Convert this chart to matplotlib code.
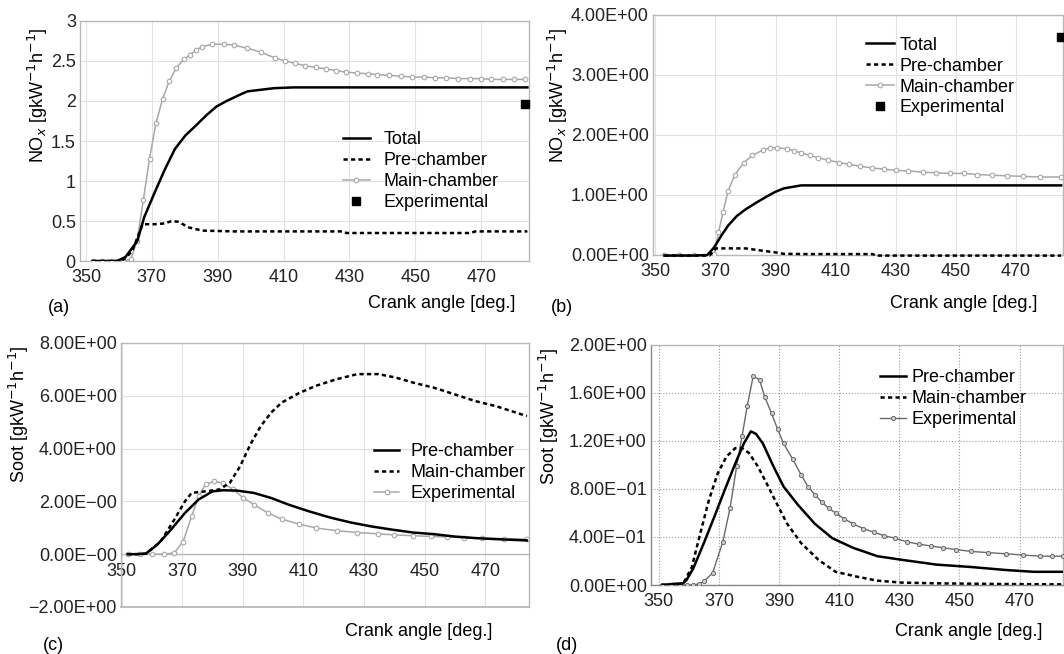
import numpy as np
import matplotlib
matplotlib.use("Agg")
import matplotlib.pyplot as plt

plt.rcParams['font.family'] = ['Liberation Sans', 'DejaVu Sans']
plt.rcParams['font.size'] = 13

# ---- panel (a): NOx, case 1 ----
a_total_x = [352, 356, 359.4, 362, 365.6, 367.7, 370.8, 373.9, 377, 380.2, 383.3, 386.5, 389.6,
             392.7, 396.8, 399, 403, 407, 413, 420, 440, 460, 484]
a_total_y = [0, 0, 0, 0.05, 0.25, 0.55, 0.85, 1.14, 1.40, 1.57, 1.69, 1.82, 1.93,
             2.0, 2.08, 2.12, 2.14, 2.16, 2.17, 2.17, 2.17, 2.17, 2.17]
a_pre_x = [352, 356, 361, 364, 367.2, 371, 374, 376, 378.1, 381.2, 385.3, 395, 410, 428, 429.1,
           440, 455, 466.7, 468.2, 476, 484]
a_pre_y = [0, 0, 0, 0.12, 0.46, 0.46, 0.47, 0.50, 0.49, 0.42, 0.38, 0.37, 0.37, 0.37, 0.35,
           0.35, 0.35, 0.35, 0.37, 0.37, 0.37]
a_main_x = [352, 355, 358, 361.3, 363.6, 365.5, 367.4, 369.3, 371.3, 373.3, 375.3, 377.4, 379.7,
            381.7, 383.5, 385.3, 388.4, 392, 394.8, 398.9, 403.1, 407.3, 410.5, 413.5, 416.6,
            419.8, 423, 426, 429, 432.3, 435.5, 438.5, 442, 445.5, 449, 452.5, 456, 459.4,
            463, 466.5, 469.8, 473, 476.5, 480, 483.3]
a_main_y = [0, 0, 0, 0, 0.02, 0.25, 0.76, 1.28, 1.73, 2.03, 2.25, 2.41, 2.52,
            2.58, 2.64, 2.68, 2.71, 2.71, 2.70, 2.66, 2.61, 2.54, 2.50, 2.47, 2.44,
            2.42, 2.40, 2.38, 2.36, 2.35, 2.34, 2.33, 2.32, 2.31, 2.30, 2.30, 2.29, 2.29,
            2.28, 2.28, 2.28, 2.27, 2.27, 2.27, 2.27]
a_exp_x = [483.3]
a_exp_y = [1.96]

# ---- panel (b): NOx, case 2 ----
b_total_x = [353, 358, 363, 367.3, 369.6, 371.9, 374.2, 377.1, 380, 383.5, 386.9, 389.8,
             392.7, 396.2, 398.5, 410, 430, 450, 470, 485]
b_total_y = [-0.01, -0.01, -0.01, 0.0, 0.13, 0.32, 0.49, 0.65, 0.76, 0.87, 0.97, 1.05,
             1.11, 1.14, 1.16, 1.16, 1.16, 1.16, 1.16, 1.16]
b_pre_x = [353, 360, 368, 370.2, 375, 380, 385.8, 390.4, 392.7, 400, 410, 422.5, 423, 440,
           460, 485]
b_pre_y = [-0.01, -0.01, -0.01, 0.11, 0.11, 0.11, 0.07, 0.04, 0.02, 0.015, 0.015, 0.015,
           -0.01, -0.01, -0.01, -0.01]
b_main_x = [353, 358, 363, 368, 369.6, 371, 372.5, 374.2, 376.5, 379.4, 382.3, 385.8, 388,
            390.4, 393.8, 396, 398.5, 401.5, 404.2, 407.5, 411.2, 414.5, 418.1, 422, 426.2,
            430, 434.2, 439, 443.5, 448, 452.7, 457, 461.9, 467, 472.3, 478, 485]
b_main_y = [0, 0, 0, 0, 0.02, 0.38, 0.71, 1.07, 1.34, 1.54, 1.66, 1.75, 1.78,
            1.79, 1.77, 1.74, 1.70, 1.66, 1.62, 1.58, 1.54, 1.51, 1.48, 1.45, 1.43,
            1.41, 1.40, 1.38, 1.37, 1.36, 1.36, 1.34, 1.33, 1.32, 1.31, 1.30, 1.30]
b_exp_x = [485]
b_exp_y = [3.64]

# ---- panel (c): soot, case 1 ----
c_pre_x = [352, 355, 358, 361.7, 366.3, 370.9, 375.4, 380, 383.4, 387.9, 393.6, 399.3, 405,
           411.9, 418.7, 425.6, 432.4, 439.2, 446.1, 452.9, 459.7, 466.6, 473.4, 483.7]
c_pre_y = [0, 0, 0.02, 0.35, 0.93, 1.56, 2.07, 2.38, 2.42, 2.41, 2.32, 2.13, 1.88,
           1.62, 1.39, 1.20, 1.05, 0.93, 0.82, 0.76, 0.67, 0.61, 0.57, 0.52]
c_main_x = [352, 355, 358, 362.9, 367.4, 370.9, 373.1, 377.7, 382.2, 385.7, 389.1, 392.5,
            395.9, 399.3, 402.8, 408.5, 414.2, 421, 427.8, 434.7, 440.4, 446.1, 452.9,
            459.7, 466.6, 473.4, 483.7]
c_main_y = [0, 0, 0.02, 0.48, 1.31, 2.0, 2.32, 2.38, 2.45, 2.7, 3.33, 4.16,
            4.85, 5.36, 5.74, 6.10, 6.38, 6.63, 6.82, 6.82, 6.69, 6.5, 6.31,
            6.06, 5.8, 5.61, 5.23]
c_exp_x = [352, 356, 360, 364, 367.4, 370.3, 373.1, 375.4, 377.7, 380.5, 383.4, 386.8,
           390.2, 393.6, 398.2, 402.8, 408.5, 414.2, 421, 427.8, 434.7, 440, 446.1, 452,
           457.5, 463, 468.9, 476, 483.7]
c_exp_y = [0, 0, 0, 0, 0.05, 0.48, 1.43, 2.19, 2.64, 2.76, 2.70, 2.45,
           2.13, 1.88, 1.56, 1.33, 1.14, 0.99, 0.89, 0.82, 0.77, 0.73, 0.70, 0.67,
           0.65, 0.63, 0.61, 0.59, 0.57]

# ---- panel (d): soot, case 2 ----
d_pre_x = [351.2, 355, 358.1, 359.2, 361.5, 365, 368.5, 371.9, 375.4, 378.3, 380.6, 382.3,
           384.6, 388.1, 391.5, 396.2, 401.9, 407.7, 414.6, 422.7, 430.8, 442.3, 453.8,
           465.4, 474.6, 484.4]
d_pre_y = [0, 0.01, 0.014, 0.04, 0.14, 0.35, 0.57, 0.79, 1.01, 1.18, 1.28, 1.26,
           1.18, 0.99, 0.82, 0.67, 0.51, 0.39, 0.31, 0.24, 0.21, 0.17, 0.15,
           0.125, 0.11, 0.11]
d_main_x = [351.2, 355, 358.1, 361, 363.8, 366.7, 369.6, 372.5, 375.4, 377.7, 380, 382.9,
            385.8, 389.2, 392.7, 397.3, 403.1, 408.8, 415.8, 422.7, 430.8, 442.3, 465.4, 484.4]
d_main_y = [0, 0.005, 0.01, 0.15, 0.43, 0.71, 0.93, 1.07, 1.14, 1.14, 1.10, 0.99,
            0.85, 0.68, 0.51, 0.35, 0.21, 0.11, 0.07, 0.036, 0.02, 0.014, 0.008, 0.005]
d_exp_x = [351, 354, 357, 359.5, 361.5, 363.5, 365, 367.9, 371.3, 373.7, 375.9, 377.7,
           379.4, 381.4, 383.5, 385.2, 387.5, 389.5, 391.5, 394.5, 397.3, 399.6, 402,
           404.2, 406.5, 408.8, 411.7, 414.6, 418, 421.5, 425, 428.5, 432.5, 436.5, 440.5,
           444.6, 449, 453.8, 459.5, 465.4, 471, 476.9, 480.9, 484.4]
d_exp_y = [0, 0, 0, 0, 0, 0.01, 0.03, 0.10, 0.36, 0.64, 0.99, 1.24,
           1.49, 1.74, 1.71, 1.57, 1.43, 1.30, 1.18, 1.05, 0.92, 0.82, 0.75,
           0.69, 0.64, 0.60, 0.55, 0.51, 0.47, 0.44, 0.41, 0.39, 0.36, 0.34, 0.325,
           0.31, 0.295, 0.28, 0.27, 0.26, 0.25, 0.24, 0.24, 0.24]

x_ticks = [350, 370, 390, 410, 430, 450, 470]

fig = plt.figure(figsize=(10.64, 6.54), dpi=100)

ax_a = fig.add_axes([0.0752, 0.6009, 0.4220, 0.3670])
ax_b = fig.add_axes([0.6137, 0.6101, 0.3853, 0.3670])
ax_c = fig.add_axes([0.1137, 0.0719, 0.3835, 0.4037])
ax_d = fig.add_axes([0.6118, 0.1055, 0.3872, 0.3670])

frame_col = '#b8b8b8'
main_col = '#a8a8a8'
dash = (0, (1.7, 1.3))


def style(ax, xlim, ylim, yticks, ylabels, grid_ls='-', grid_col='#e2e2e2'):
    ax.set_xlim(*xlim)
    ax.set_ylim(*ylim)
    ax.set_xticks(x_ticks)
    ax.set_xticklabels([str(t) for t in x_ticks])
    ax.set_yticks(yticks)
    ax.set_yticklabels(ylabels)
    ax.tick_params(length=0, labelsize=13, colors='#222222')
    ax.tick_params(axis='x', pad=6)
    ax.tick_params(axis='y', pad=3)
    ax.grid(True, color=grid_col, linestyle=grid_ls, linewidth=0.8)
    ax.set_axisbelow(True)
    for s in ax.spines.values():
        s.set_color(frame_col)
        s.set_linewidth(1.0)


def legend(ax, anchor, hl, pad):
    ax.legend(loc='upper left', bbox_to_anchor=anchor, frameon=False, fontsize=13,
              handlelength=hl, handletextpad=pad, labelspacing=0.22, borderpad=0,
              borderaxespad=0)


# (a)
style(ax_a, (348.2, 484.5), (0, 3), [0, 0.5, 1, 1.5, 2, 2.5, 3],
      ['0', '0.5', '1', '1.5', '2', '2.5', '3'])
ax_a.plot(a_total_x, a_total_y, color='black', lw=1.8, label='Total', zorder=4)
ax_a.plot(a_pre_x, a_pre_y, color='black', lw=1.8, ls=dash, label='Pre-chamber', zorder=4)
ax_a.plot(a_main_x, a_main_y, color=main_col, lw=1.1, marker='o', ms=3.3, mfc='white',
          mec=main_col, mew=0.8, label='Main-chamber', zorder=3)
ax_a.plot(a_exp_x, a_exp_y, ls='none', marker='s', ms=5.5, color='black', label='Experimental',
          clip_on=False, zorder=5)
legend(ax_a, (0.585, 0.54), 1.5, 0.75)

# (b)
style(ax_b, (349.2, 485.6), (0, 4), [0, 1, 2, 3, 4],
      ['0.00E+00', '1.00E+00', '2.00E+00', '3.00E+00', '4.00E+00'])
ax_b.plot(b_total_x, b_total_y, color='black', lw=1.8, label='Total', zorder=4, clip_on=False)
ax_b.plot(b_pre_x, b_pre_y, color='black', lw=1.8, ls=dash, label='Pre-chamber', zorder=4,
          clip_on=False)
ax_b.plot(b_main_x, b_main_y, color=main_col, lw=1.1, marker='o', ms=3.3, mfc='white',
          mec=main_col, mew=0.8, label='Main-chamber', zorder=3)
ax_b.plot(b_exp_x, b_exp_y, ls='none', marker='s', ms=5.5, color='black', label='Experimental',
          clip_on=False, zorder=5)
legend(ax_b, (0.52, 0.91), 1.55, 0.3)

# (c)
style(ax_c, (349.8, 484.4), (-2, 8), [-2, 0, 2, 4, 6, 8],
      ['\u22122.00E+00', '0.00E\u221200', '2.00E\u221200', '4.00E+00', '6.00E+00', '8.00E+00'])
ax_c.spines['bottom'].set_position(('data', 0))
ax_c.axhline(-2, color=frame_col, lw=1.3, clip_on=False, zorder=1)
ax_c.plot(c_pre_x, c_pre_y, color='black', lw=1.8, label='Pre-chamber', zorder=4)
ax_c.plot(c_main_x, c_main_y, color='black', lw=1.8, ls=dash, label='Main-chamber', zorder=4)
ax_c.plot(c_exp_x, c_exp_y, color=main_col, lw=1.1, marker='o', ms=3.3, mfc='white',
          mec=main_col, mew=0.8, label='Experimental', zorder=3)
legend(ax_c, (0.62, 0.62), 1.4, 0.6)

# (d)
style(ax_d, (347.4, 484.4), (0, 2), [0, 0.4, 0.8, 1.2, 1.6, 2.0],
      ['0.00E+00', '4.00E\u221201', '8.00E\u221201', '1.20E+00', '1.60E+00', '2.00E+00'],
      grid_ls=':', grid_col='#9a9a9a')
ax_d.spines['left'].set_color('#888888')
ax_d.spines['bottom'].set_color('#888888')
ax_d.plot(d_pre_x, d_pre_y, color='black', lw=1.8, label='Pre-chamber', zorder=4)
ax_d.plot(d_main_x, d_main_y, color='black', lw=1.8, ls=dash, label='Main-chamber', zorder=4)
ax_d.plot(d_exp_x, d_exp_y, color='#6a6a6a', lw=1.0, marker='o', ms=3.0, mfc='#cfcfcf',
          mec='#6a6a6a', mew=0.7, label='Experimental', zorder=3)
legend(ax_d, (0.555, 0.9), 1.45, 0.3)

# y labels
nox_lab = 'NO$_x$ [gkW$^{-1}$h$^{-1}$]'
soot_lab = 'Soot [gkW$^{-1}$h$^{-1}$]'
W, H = 1064.0, 654.0
fig.text(38 / W, 1 - 95 / H, nox_lab, rotation=90, ha='center', va='center', fontsize=13)
fig.text(558 / W, 1 - 95 / H, nox_lab, rotation=90, ha='center', va='center', fontsize=13)
fig.text(19 / W, 1 - 414 / H, soot_lab, rotation=90, ha='center', va='center', fontsize=13)
fig.text(549 / W, 1 - 416 / H, soot_lab, rotation=90, ha='center', va='center', fontsize=13)

# x labels
xl = 'Crank angle [deg.]'
fig.text(515 / W, 1 - 303 / H, xl, ha='right', va='center', fontsize=13)
fig.text(1037 / W, 1 - 303 / H, xl, ha='right', va='center', fontsize=13)
fig.text(492 / W, 1 - 632 / H, xl, ha='right', va='center', fontsize=13)
fig.text(1042 / W, 1 - 632 / H, xl, ha='right', va='center', fontsize=13)

# panel letters
fig.text(48 / W, 1 - 307 / H, '(a)', ha='left', va='center', fontsize=13)
fig.text(551 / W, 1 - 307 / H, '(b)', ha='left', va='center', fontsize=13)
fig.text(43 / W, 1 - 645 / H, '(c)', ha='left', va='center', fontsize=13)
fig.text(556 / W, 1 - 645 / H, '(d)', ha='left', va='center', fontsize=13)

fig.savefig('out.png', dpi=100)
